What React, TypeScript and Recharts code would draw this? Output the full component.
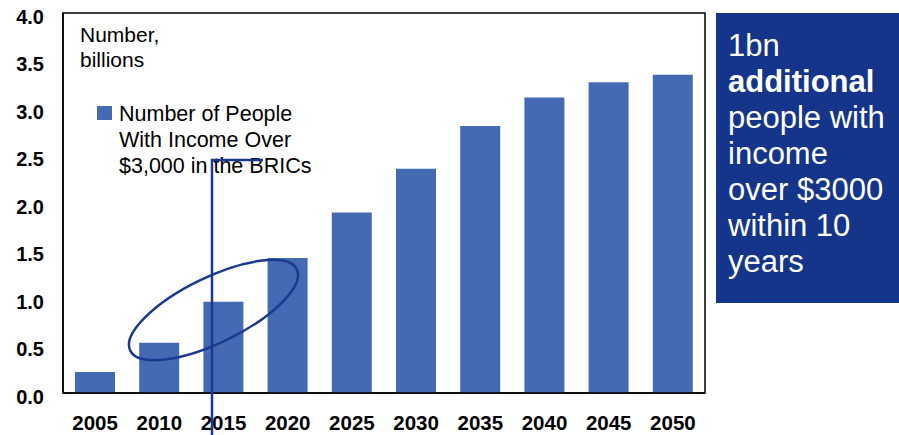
import React from 'react';
import { BarChart, Bar, XAxis, YAxis, Legend, ReferenceArea } from 'recharts';

const years = ['2005', '2010', '2015', '2020', '2025', '2030', '2035', '2040', '2045', '2050'];
const peopleBn = [0.22, 0.53, 0.96, 1.42, 1.9, 2.36, 2.81, 3.11, 3.27, 3.35];
const yTicks = [0, 0.5, 1, 1.5, 2, 2.5, 3, 3.5, 4];
const yTickLabels = ['0.0', '0.5', '1.0', '1.5', '2.0', '2.5', '3.0', '3.5', '4.0'];
const seriesName = 'Number of People With Income Over $3,000 in the BRICs';
const legendLines = ['Number of People', 'With Income Over', '$3,000 in the BRICs'];
const unitLines = ['Number,', 'billions'];
const boxLines = [
  { text: '1bn', bold: false },
  { text: 'additional', bold: true },
  { text: 'people with', bold: false },
  { text: 'income', bold: false },
  { text: 'over $3000', bold: false },
  { text: 'within 10', bold: false },
  { text: 'years', bold: false },
];

const data = years.map((y, i) => ({ year: y, value: peopleBn[i] }));

const W = 899;
const H = 435;
const FONT = '"Liberation Sans", Arial, Helvetica, sans-serif';
const BAR = '#446AB4';
const NAVY = '#1A3A8F';
const BOX = '#14358A';

const XTick = (props: any) => {
  const { x, payload } = props;
  return (
    <text x={x} y={430} textAnchor="middle" fontFamily={FONT} fontWeight="bold" fontSize={20.5} fill="#000">
      {payload.value}
    </text>
  );
};

const YTick = (props: any) => {
  const { y, payload } = props;
  const idx = yTicks.indexOf(payload.value);
  return (
    <text x={44} y={y + 10.5} textAnchor="end" fontFamily={FONT} fontWeight="bold" fontSize={20} fill="#000">
      {idx >= 0 ? yTickLabels[idx] : payload.value}
    </text>
  );
};

const LegendContent = () => (
  <div style={{ display: 'flex', alignItems: 'flex-start', fontFamily: FONT, fontSize: 21.5, lineHeight: '26px', color: '#000' }}>
    <div style={{ width: 15, height: 14, background: BAR, marginTop: 5, marginRight: 7, flex: 'none' }} />
    <div style={{ whiteSpace: 'nowrap' }}>
      {legendLines.map((l) => (
        <div key={l}>{l}</div>
      ))}
    </div>
  </div>
);

export default function App() {
  return (
    <div style={{ position: 'fixed', left: 0, top: 0, width: W, height: H, background: '#fff', overflow: 'hidden' }}>
      <BarChart width={W} height={H} data={data} margin={{ top: 13, right: 194, bottom: 12, left: 0 }}>
        <XAxis
          dataKey="year"
          height={30}
          axisLine={{ stroke: '#000', strokeWidth: 1.5 }}
          tickLine={false}
          tick={<XTick />}
          interval={0}
        />
        <YAxis
          width={63}
          domain={[0, 4]}
          ticks={yTicks}
          axisLine={{ stroke: '#000', strokeWidth: 1.5 }}
          tickLine={false}
          tick={<YTick />}
          interval={0}
        />
        <ReferenceArea y1={0} y2={4} fill="none" fillOpacity={0} stroke="#000" strokeWidth={1.5} ifOverflow="visible" />
        <Legend
          layout="vertical"
          align="center"
          verticalAlign="middle"
          content={<LegendContent />}
          wrapperStyle={{ position: 'absolute', left: 97, top: 101, width: 260, height: 80 }}
        />
        <Bar dataKey="value" name={seriesName} fill={BAR} barSize={40} isAnimationActive={false} />
      </BarChart>
      <svg width={W} height={H} style={{ position: 'absolute', left: 0, top: 0, pointerEvents: 'none' }}>
        {unitLines.map((t, i) => (
          <text key={t} x={80} y={42 + i * 25} fontFamily={FONT} fontSize={21} fill="#000">
            {t}
          </text>
        ))}
        <path d="M 212 435 V 160 H 263" fill="none" stroke={NAVY} strokeWidth={2.5} />
        <ellipse
          cx={213.5}
          cy={310}
          rx={92.6}
          ry={32.6}
          transform="rotate(-26 213.5 310)"
          fill="none"
          stroke={NAVY}
          strokeWidth={2.5}
        />
        <rect x={716} y={13} width={190} height={290} fill={BOX} />
        {boxLines.map((l, i) => (
          <text
            key={l.text}
            x={728}
            y={56 + i * 36}
            fontFamily={FONT}
            fontSize={31}
            fontWeight={l.bold ? 'bold' : 'normal'}
            fill="#fff"
          >
            {l.text}
          </text>
        ))}
      </svg>
    </div>
  );
}
